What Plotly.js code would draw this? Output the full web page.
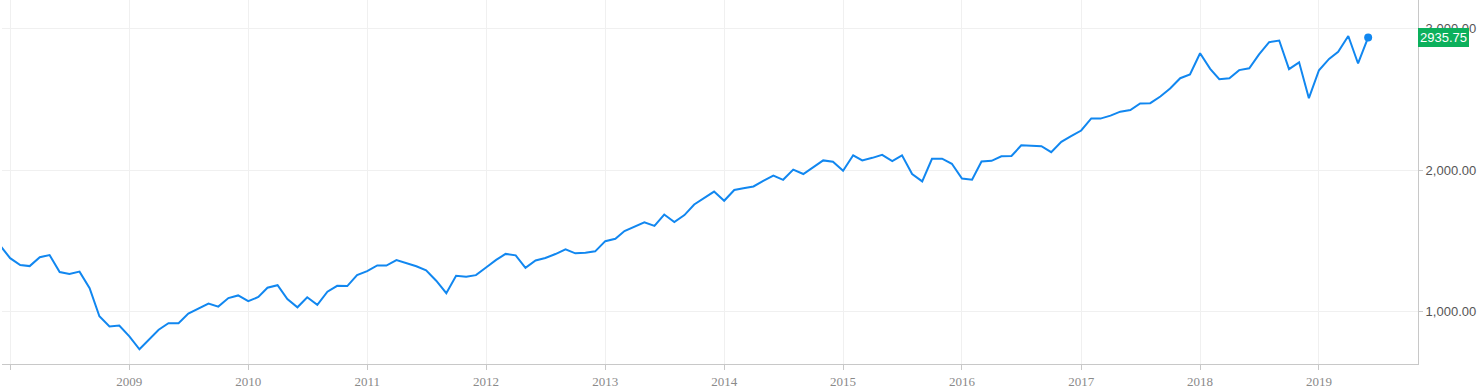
<!DOCTYPE html>
<html>
<head>
<meta charset="utf-8">
<script src="https://cdn.plot.ly/plotly-3.0.1.min.js"></script>
<style>
  html, body { margin: 0; padding: 0; background: #fff; }
  #chart { width: 1481px; height: 392px; }
</style>
</head>
<body>
<div id="chart"></div>
<script>
// Monthly closes, plotted at the first day of each month (Dec 2007 – Jun 2019)
const startYear = 2007;
const startMonth = 12;
const closes = [
  1468, // 2007-12
  1378, 1330, 1322, 1385, 1400, 1280, 1267, 1283, 1166, 968, 896, 903,      // 2008
  826, 735, 798, 873, 919, 919, 987, 1021, 1057, 1036, 1096, 1115,          // 2009
  1074, 1104, 1169, 1187, 1089, 1031, 1102, 1049, 1141, 1183, 1181, 1258,   // 2010
  1286, 1327, 1326, 1364, 1345, 1321, 1292, 1219, 1131, 1253, 1247, 1258,   // 2011
  1312, 1366, 1408, 1398, 1310, 1362, 1379, 1407, 1441, 1412, 1416, 1426,   // 2012
  1498, 1515, 1569, 1598, 1631, 1606, 1686, 1633, 1682, 1757, 1806, 1848,   // 2013
  1783, 1859, 1872, 1884, 1924, 1960, 1931, 2003, 1972, 2018, 2068, 2059,   // 2014
  1995, 2104, 2068, 2086, 2107, 2063, 2104, 1972, 1920, 2079, 2080, 2044,   // 2015
  1940, 1932, 2060, 2065, 2097, 2099, 2174, 2171, 2168, 2126, 2199, 2239,   // 2016
  2279, 2364, 2363, 2384, 2412, 2423, 2470, 2472, 2519, 2575, 2648, 2674,   // 2017
  2824, 2714, 2641, 2648, 2705, 2718, 2816, 2902, 2914, 2712, 2760, 2507,   // 2018
  2704, 2784, 2834, 2946, 2752, 2935.75                                     // 2019
];
const lastValue = 2935.75;
const yearTicks = ['2008','2009','2010','2011','2012','2013','2014','2015','2016','2017','2018','2019'];
const yearTickText = ['', '2009','2010','2011','2012','2013','2014','2015','2016','2017','2018','2019'];
const yTicks = [1000, 2000, 3000];

const dates = closes.map((v, i) => {
  const m0 = (startMonth - 1) + i;
  const y = startYear + Math.floor(m0 / 12);
  const m = (m0 % 12) + 1;
  return y + '-' + String(m).padStart(2, '0') + '-01';
});
const tickDates = yearTicks.map(y => y + '-01-01');

const lineColor = '#1187f0';

const traces = [
  {
    x: dates, y: closes, type: 'scatter', mode: 'lines',
    line: { color: lineColor, width: 2 },
    hoverinfo: 'x+y', cliponaxis: true
  },
  {
    x: [dates[dates.length - 1]], y: [closes[closes.length - 1]],
    type: 'scatter', mode: 'markers',
    marker: { color: lineColor, size: 8 },
    hoverinfo: 'skip', cliponaxis: false
  }
];

const layout = {
  width: 1481, height: 392,
  margin: { l: 2, r: 63, t: 0, b: 28, pad: 0 },
  paper_bgcolor: '#ffffff', plot_bgcolor: '#ffffff',
  showlegend: false,
  xaxis: {
    type: 'date',
    range: ['2007-12-07', '2019-11-01'],
    tickmode: 'array', tickvals: tickDates, ticktext: yearTickText,
    showgrid: true, gridcolor: '#f0f0f0', gridwidth: 1,
    showline: true, linecolor: '#c8c8c8', linewidth: 1,
    ticks: 'outside', ticklen: 5, tickcolor: '#c8c8c8', tickwidth: 1,
    tickfont: { family: 'Liberation Serif, Times New Roman, serif', size: 13, color: '#8a8a8a' },
    zeroline: false, fixedrange: true
  },
  yaxis: {
    side: 'right',
    range: [631, 3200],
    tickmode: 'array', tickvals: yTicks, tickformat: ',.2f',
    showgrid: true, gridcolor: '#f0f0f0', gridwidth: 1,
    showline: true, linecolor: '#c8c8c8', linewidth: 1,
    ticks: 'outside', ticklen: 4, tickcolor: '#c8c8c8', tickwidth: 1,
    tickfont: { family: 'Liberation Sans, Arial, sans-serif', size: 13, color: '#555555' },
    zeroline: false, fixedrange: true
  },
  annotations: [
    {
      xref: 'paper', yref: 'y', x: 1, y: lastValue,
      xanchor: 'left', yanchor: 'middle',
      text: String(lastValue.toFixed(2)),
      showarrow: false,
      bgcolor: '#0cb05c', bordercolor: '#0cb05c', borderwidth: 0, borderpad: 2,
      font: { family: 'Liberation Sans, Arial, sans-serif', size: 13, color: '#ffffff' }
    }
  ]
};

Plotly.newPlot('chart', traces, layout, { displayModeBar: false, staticPlot: true });
</script>
</body>
</html>
